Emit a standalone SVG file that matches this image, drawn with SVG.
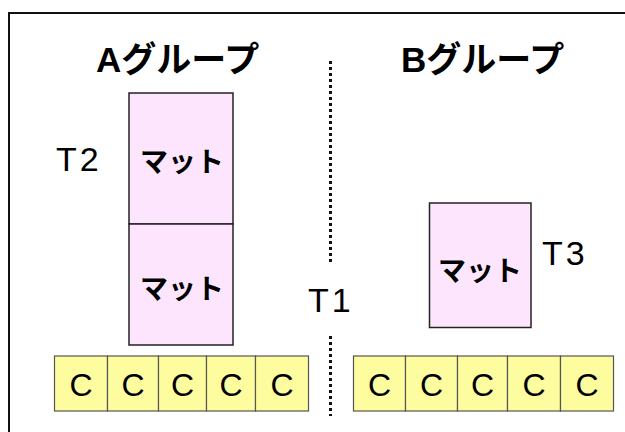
<svg xmlns="http://www.w3.org/2000/svg" width="625" height="432" viewBox="0 0 625 432">
  <style>
    .frame { fill: none; stroke: #111; stroke-width: 2; }
    .mat { fill: #fde6fd; stroke: #222; stroke-width: 1.5; }
    .cell { fill: #fdfd9f; stroke: #555; stroke-width: 1.2; }
    .title { font-family: "Liberation Sans", "Noto Sans CJK JP", sans-serif; font-weight: bold; font-size: 35px; fill: #000; }
    .matlabel { font-family: "Noto Sans CJK JP", sans-serif; font-weight: bold; font-size: 28px; fill: #000; text-anchor: middle; }
    .tag { font-family: "Liberation Sans", sans-serif; font-size: 34px; fill: #000; letter-spacing: 3px; }
    .c { font-family: "Liberation Sans", sans-serif; font-size: 32px; fill: #000; text-anchor: middle; }
    .divider { stroke: #111; stroke-width: 3; stroke-dasharray: 3 3; fill: none; }
  </style>

  <rect class="frame" x="9" y="13" width="700" height="500"/>

  <text class="title" x="96" y="72">Aグループ</text>
  <text class="title" x="401" y="72">Bグループ</text>

  <g id="divider">
    <line class="divider" x1="330.5" y1="61" x2="330.5" y2="263"/>
    <line class="divider" x1="330.5" y1="336" x2="330.5" y2="416"/>
  </g>

  <text class="tag" x="56" y="171">T2</text>
  <text class="tag" x="308" y="312">T1</text>
  <text class="tag" x="542" y="265">T3</text>

  <g id="matA1">
    <rect class="mat" x="129" y="93" width="104" height="131"/>
    <text class="matlabel" x="182" y="172">マット</text>
  </g>
  <g id="matA2">
    <rect class="mat" x="129" y="224" width="104" height="121"/>
    <text class="matlabel" x="182" y="299">マット</text>
  </g>
  <g id="matB">
    <rect class="mat" x="429.5" y="203" width="101.5" height="124.5"/>
    <text class="matlabel" x="480" y="281">マット</text>
  </g>

  <g id="cellsA">
    <rect class="cell" x="54.5" y="356" width="53" height="55"/>
    <rect class="cell" x="107.5" y="356" width="51" height="55"/>
    <rect class="cell" x="158.5" y="356" width="48" height="55"/>
    <rect class="cell" x="206.5" y="356" width="49" height="55"/>
    <rect class="cell" x="255.5" y="356" width="53" height="55"/>
    <text class="c" x="81" y="396">C</text>
    <text class="c" x="133" y="396">C</text>
    <text class="c" x="182.5" y="396">C</text>
    <text class="c" x="231" y="396">C</text>
    <text class="c" x="282" y="396">C</text>
  </g>
  <g id="cellsB">
    <rect class="cell" x="353.5" y="356" width="52" height="55"/>
    <rect class="cell" x="405.5" y="356" width="52" height="55"/>
    <rect class="cell" x="457.5" y="356" width="50" height="55"/>
    <rect class="cell" x="507.5" y="356" width="53" height="55"/>
    <rect class="cell" x="560.5" y="356" width="53" height="55"/>
    <text class="c" x="379.5" y="396">C</text>
    <text class="c" x="431.5" y="396">C</text>
    <text class="c" x="482.5" y="396">C</text>
    <text class="c" x="534" y="396">C</text>
    <text class="c" x="587" y="396">C</text>
  </g>
</svg>
